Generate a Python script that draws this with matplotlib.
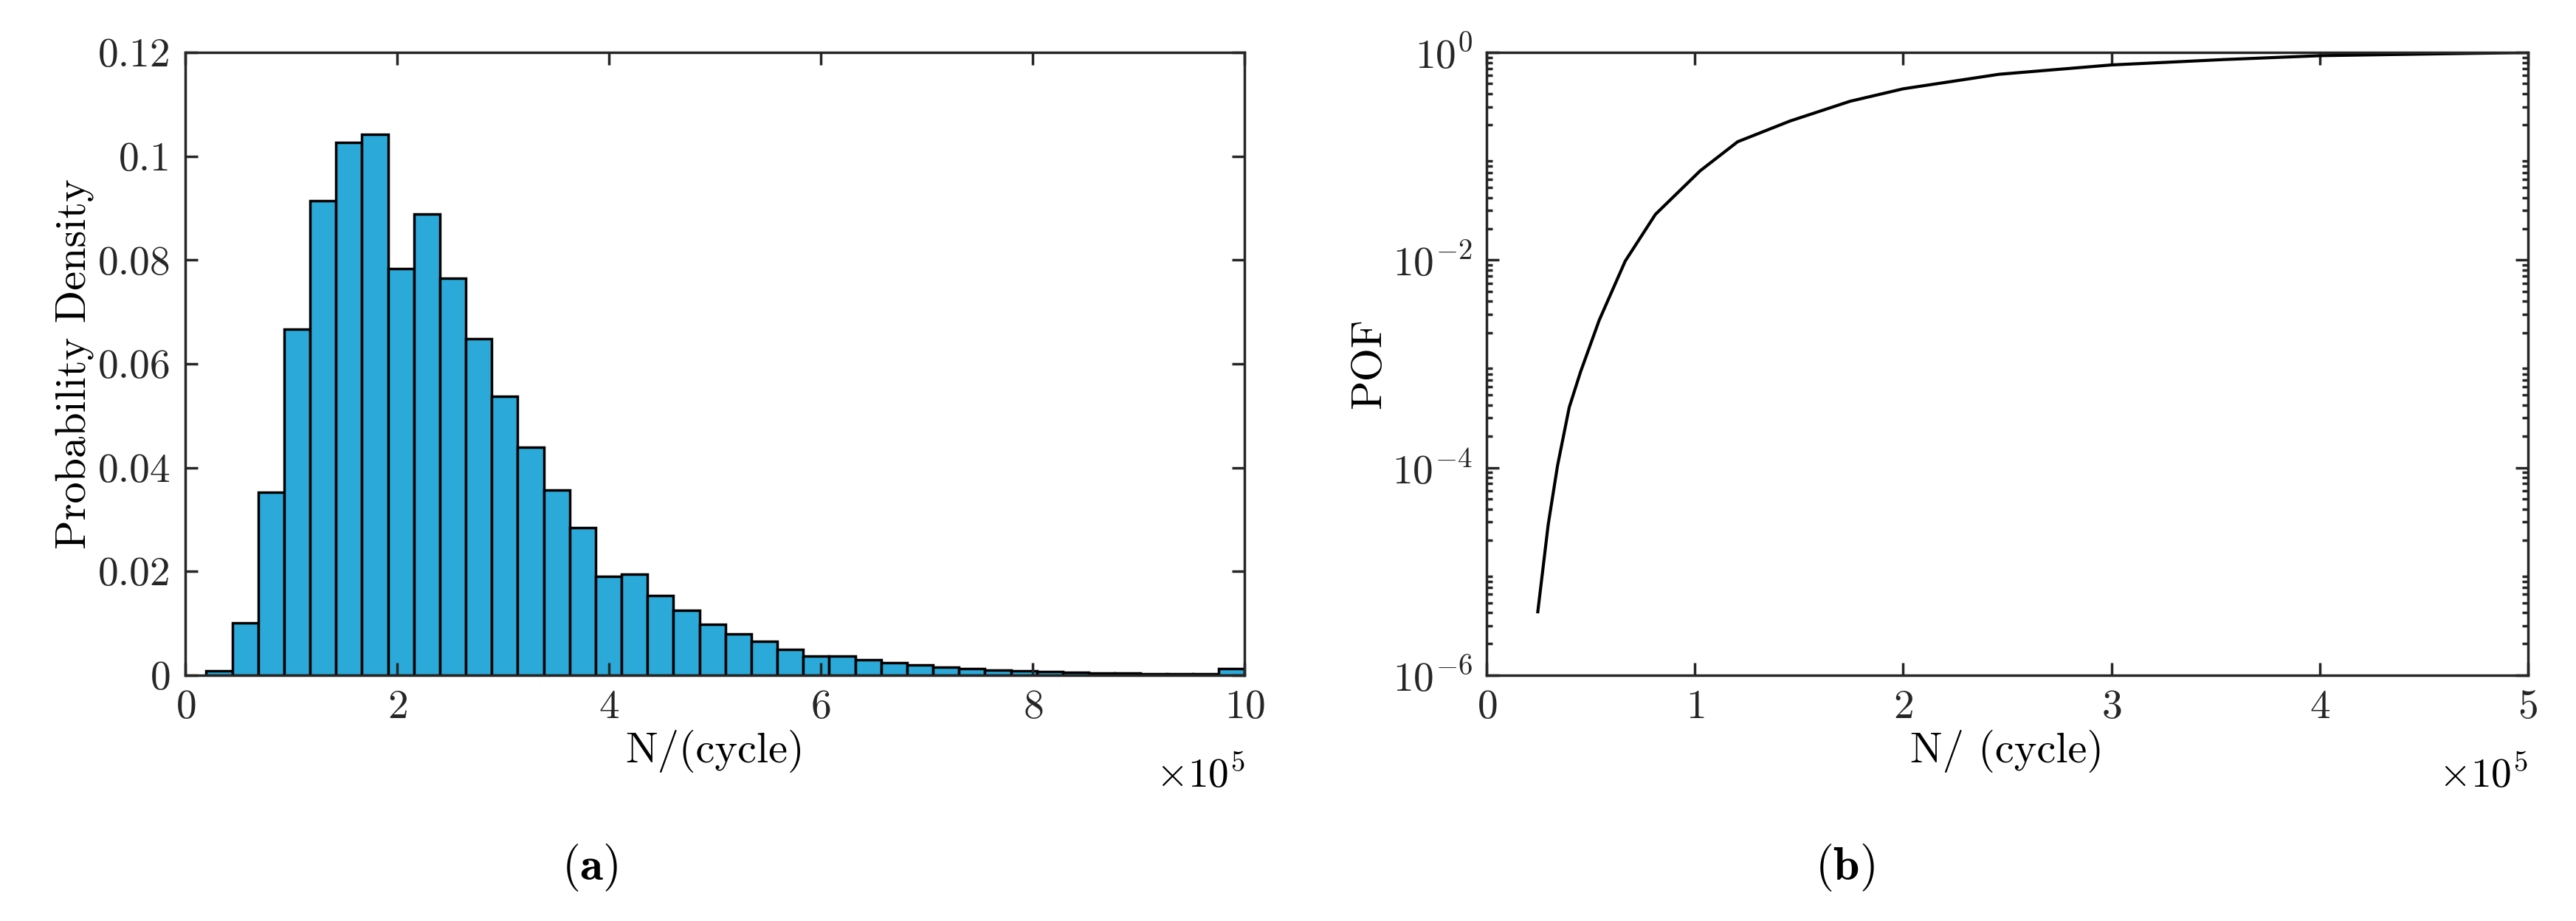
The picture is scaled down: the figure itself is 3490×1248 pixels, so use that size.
import matplotlib
matplotlib.use("Agg")
import matplotlib.pyplot as plt
import numpy as np

plt.rcParams["font.family"] = ["cmr10", "DejaVu Serif"]
plt.rcParams["mathtext.fontset"] = "cm"
plt.rcParams["axes.formatter.use_mathtext"] = True

# histogram (x in units of 1e5 cycles)
bin_start = 0.196
bin_width = 0.2451
density = [0.0008, 0.010, 0.0353, 0.0667, 0.0915, 0.1027, 0.1042, 0.0784,
           0.0888, 0.0765, 0.0648, 0.0538, 0.0439, 0.0357, 0.0284, 0.0191,
           0.0195, 0.0153, 0.0125, 0.0098, 0.0079, 0.0065, 0.0050, 0.0036,
           0.0036, 0.0029, 0.0024, 0.0019, 0.0016, 0.0012, 0.0010, 0.0008,
           0.0007, 0.0005, 0.0004, 0.0004, 0.0003, 0.0002, 0.0002, 0.0012]

# POF curve
pof_n = [0.245, 0.295, 0.34, 0.396, 0.45, 0.54, 0.665, 0.81, 1.025, 1.205,
         1.457, 1.745, 2.0, 2.46, 3.0, 3.54, 4.01, 5.0]
pof_log = [-5.39, -4.55, -3.98, -3.42, -3.08, -2.58, -2.01, -1.56, -1.14,
           -0.86, -0.66, -0.47, -0.35, -0.21, -0.12, -0.068, -0.03, 0.0]

fig = plt.figure(figsize=(34.91, 12.48), dpi=100)
ax1 = fig.add_axes([0.072, 0.267, 0.411, 0.676])
ax2 = fig.add_axes([0.577, 0.267, 0.404, 0.676])

edges = bin_start + bin_width * np.arange(len(density))
ax1.bar(edges, density, width=bin_width, align="edge", color="#2BAAD9",
        edgecolor="black", linewidth=2.5)
ax1.set_xlim(0, 10)
ax1.set_ylim(0, 0.12)
ax1.set_xticks([0, 2, 4, 6, 8, 10])
ax1.set_yticks([0, 0.02, 0.04, 0.06, 0.08, 0.1, 0.12])
ax1.set_yticklabels(["0", "0.02", "0.04", "0.06", "0.08", "0.1", "0.12"])
ax1.set_xlabel("N/(cycle)", fontsize=42)
ax1.set_ylabel("Probability Density", fontsize=42)
ax1.text(1.0, -0.13, r"$\times10^5$", transform=ax1.transAxes, ha="right",
         va="top", fontsize=40)

ax2.plot(pof_n, 10.0 ** np.array(pof_log), color="black", linewidth=3)
ax2.set_yscale("log")
ax2.set_xlim(0, 5)
ax2.set_ylim(1e-6, 1)
ax2.set_yticks([1e-6, 1e-4, 1e-2, 1])
ax2.set_xlabel("N/ (cycle)", fontsize=42)
ax2.set_ylabel("POF", fontsize=42)
ax2.text(1.0, -0.13, r"$\times10^5$", transform=ax2.transAxes, ha="right",
         va="top", fontsize=40)

for ax in (ax1, ax2):
    for s in ax.spines.values():
        s.set_linewidth(2.5)
        s.set_color("#262626")
    ax.tick_params(which="both", direction="in", top=True, right=True,
                   labelsize=40, width=2.5, colors="#262626", pad=14)
    ax.tick_params(which="major", length=12)
    ax.tick_params(which="minor", length=6)
    ax.tick_params(labelcolor="#262626")

fig.text(0.229, 0.045, r"($\mathbf{a}$)", ha="center", fontsize=46)
fig.text(0.716, 0.045, r"($\mathbf{b}$)", ha="center", fontsize=46)

fig.savefig("out.png", dpi=100, facecolor="white")
